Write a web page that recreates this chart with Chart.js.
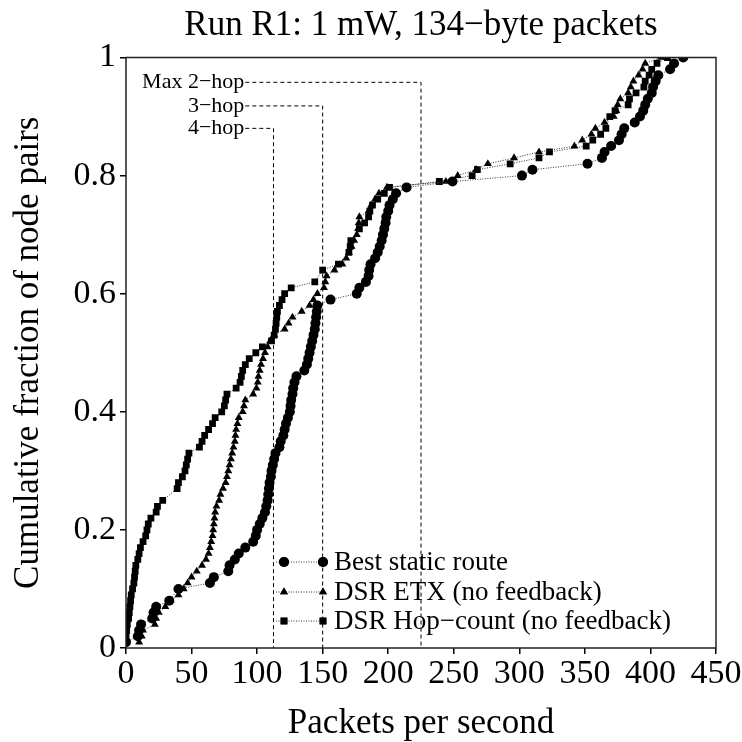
<!DOCTYPE html>
<html>
<head>
<meta charset="utf-8">
<script src="https://cdn.jsdelivr.net/npm/chart.js@4.4.0/dist/chart.umd.min.js"></script>
<style>
  body { margin: 0; background: #fff; }
  #wrap { width: 742px; height: 742px; }
</style>
</head>
<body>
<div id="wrap"><canvas id="myChart" width="742" height="742"></canvas></div>
<script>
// values (packets per second vs cumulative fraction)
var bestX = [0,9,10,11.5,20,21,23,33,40, 64,67,78,79,83,86,91,97,99,100, 102,104,106,107,108,108.5,109,109.5,110.5,111,
  112,113,114,117,118,120,121,122,123.5,125, 125.5,126,127,127.5,128.5,130,136,138,139,140,
  141,142,143,144,144.5,145,145.5,146,156,176, 178,183,185,185.5,186.5,190,192,193.5,195,196,
  197,198,198.5,200,201,203.5,206,214,249,302, 310,352,363,365,370,376,378,380,388,392,
  394.5,396,398,401,402,404,406,415,418,425];
var bestY = [0.01,0.02,0.03,0.04,0.05,0.06,0.07,0.08,0.10, 0.11,0.12,0.13,0.14,0.15,0.16,0.17,0.18,0.19,0.20,
  0.21,0.22,0.23,0.24,0.25,0.26,0.27,0.28,0.29,0.30, 0.31,0.32,0.33,0.34,0.35,0.36,0.37,0.38,0.39,0.40,
  0.41,0.42,0.43,0.44,0.45,0.46,0.47,0.48,0.49,0.50, 0.51,0.52,0.53,0.54,0.55,0.56,0.57,0.58,0.59,0.60,
  0.61,0.62,0.63,0.64,0.65,0.66,0.67,0.68,0.69,0.70, 0.71,0.72,0.73,0.74,0.75,0.76,0.77,0.78,0.79,0.80,
  0.81,0.82,0.83,0.84,0.85,0.86,0.87,0.88,0.89,0.90, 0.91,0.92,0.93,0.94,0.95,0.96,0.97,0.98,0.99,1.00];

var etxX = [10,12,13,22,23,25,30,34,40,44, 47,50,54,58,61,63,64,65,66,66.5, 67,67.5,68,69,71,72,74,76,77,78,
  79,80,81,82,83,83.5,84,85,86,89, 90,91,97,99.5,100.5,101,102,103,104.5,106, 108,110,113,121,124,127,134,140,143,146,
  151,152,153,159,165,168,170,172,174,176, 177,177.5,178,185,187,190,193,199,244,253,
  267,276,296,315,342,348,355,358,365,372, 374,375,377,383,385,387,391,394,396,408];
var etxY = [0.01,0.02,0.03,0.04,0.05,0.06,0.07,0.08,0.09,0.10, 0.11,0.12,0.13,0.14,0.15,0.16,0.17,0.18,0.19,0.20,
  0.21,0.22,0.23,0.24,0.25,0.26,0.27,0.28,0.29,0.30, 0.31,0.32,0.33,0.34,0.35,0.36,0.37,0.38,0.39,0.40,
  0.41,0.42,0.43,0.44,0.45,0.46,0.47,0.48,0.49,0.50, 0.51,0.52,0.53,0.54,0.55,0.56,0.57,0.58,0.59,0.60,
  0.61,0.62,0.63,0.64,0.65,0.66,0.67,0.68,0.69,0.70, 0.71,0.72,0.73,0.74,0.75,0.76,0.77,0.78,0.79,0.80,
  0.81,0.82,0.83,0.84,0.85,0.86,0.87,0.88,0.89,0.90, 0.91,0.92,0.93,0.94,0.95,0.96,0.97,0.98,0.99,1.00];

var hopX = [0,0,0.5,1,2,2.5,3,3.5,4,5, 6,6.5,7,7.5,9,10,11,13,15,16, 17,19,23,24,28,39,40,43,45,46,
  47,48,56,58,60,63,66,68,73,75, 76,77,84,87,88,89,91,94,99,104, 111,113,114,114.5,115,115.5,117,119,121,126,
  144,150,162,170,171,171.5,178,182,185,186, 188,192,197,201,239,264,268,293,315,323,
  351,356,362,366,369,373,383,384,389,395, 396,399,401,405,413];
var hopY = [0.01,0.02,0.03,0.04,0.05,0.06,0.07,0.08,0.09,0.10, 0.11,0.12,0.13,0.14,0.15,0.16,0.17,0.18,0.19,0.20,
  0.21,0.22,0.23,0.24,0.25,0.27,0.28,0.29,0.30,0.31, 0.32,0.33,0.34,0.35,0.36,0.37,0.38,0.39,0.40,0.41,
  0.42,0.43,0.44,0.45,0.46,0.47,0.48,0.49,0.50,0.51, 0.52,0.53,0.54,0.55,0.56,0.57,0.58,0.59,0.60,0.61,
  0.62,0.64,0.65,0.67,0.68,0.69,0.71,0.72,0.73,0.74, 0.75,0.76,0.77,0.78,0.79,0.80,0.81,0.82,0.83,0.84,
  0.85,0.86,0.87,0.88,0.90,0.91,0.92,0.93,0.94,0.95, 0.96,0.97,0.98,0.99,1.00];

var seriesNames = ["Best static route", "DSR ETX (no feedback)", "DSR Hop\u2212count (no feedback)"];
var seriesMarks = ["circle", "triangle", "rect"];

// hop limits (450 / hops) and where their labels sit
var hopLimitX = [225, 150, 112.5];
var hopLimitY = [0.958, 0.918, 0.880];
var hopLimitNames = ["Max 2\u2212hop", "3\u2212hop", "4\u2212hop"];
var hopLabelEndX = 91;

var xTicks = [0, 50, 100, 150, 200, 250, 300, 350, 400, 450];
var yTicks = [0, 0.2, 0.4, 0.6, 0.8, 1];

var serif = "'Liberation Serif', 'DejaVu Serif', serif";

function toPoints(xs, ys) {
  var pts = [];
  for (var i = 0; i < xs.length; i++) pts.push({x: xs[i], y: ys[i]});
  return pts;
}

var datasets = [];
for (var h = 0; h < hopLimitX.length; h++) {
  datasets.push({
    label: hopLimitNames[h],
    data: [{x: hopLabelEndX, y: hopLimitY[h]}, {x: hopLimitX[h], y: hopLimitY[h]}, {x: hopLimitX[h], y: 0}],
    showLine: true, borderColor: "#000", borderWidth: 1, borderDash: [4, 3],
    pointRadius: 0, fill: false
  });
}
var seriesData = [toPoints(bestX, bestY), toPoints(etxX, etxY), toPoints(hopX, hopY)];
var markSize = [5, 4.6, 4.8];
for (var s = 0; s < 3; s++) {
  datasets.push({
    label: seriesNames[s],
    data: seriesData[s],
    showLine: true, borderColor: "#333", borderWidth: 1, borderDash: [1, 1.5],
    pointStyle: seriesMarks[s], pointRadius: markSize[s],
    pointBackgroundColor: "#000", pointBorderColor: "#000", pointBorderWidth: 0,
    fill: false
  });
}

var extras = {
  id: "extras",
  afterDraw: function(chart) {
    var ctx = chart.ctx;
    var a = chart.chartArea;
    var xs = chart.scales.x, ys = chart.scales.y;
    ctx.save();
    // frame
    ctx.strokeStyle = "#222";
    ctx.lineWidth = 1.5;
    ctx.strokeRect(a.left, a.top, a.right - a.left, a.bottom - a.top);

    // hop labels
    ctx.fillStyle = "#000";
    ctx.font = "22px " + serif;
    ctx.textAlign = "right";
    ctx.textBaseline = "middle";
    for (var h = 0; h < hopLimitNames.length; h++) {
      ctx.fillText(hopLimitNames[h], xs.getPixelForValue(hopLabelEndX) - 1, ys.getPixelForValue(hopLimitY[h]));
    }

    // legend inside plot
    var rows = [562, 592, 621];
    ctx.font = "27px " + serif;
    ctx.textAlign = "left";
    for (var s = 0; s < 3; s++) {
      var y = rows[s];
      ctx.setLineDash([1, 1.5]);
      ctx.strokeStyle = "#333";
      ctx.lineWidth = 1;
      ctx.beginPath();
      ctx.moveTo(276, y);
      ctx.lineTo(323, y);
      ctx.stroke();
      ctx.setLineDash([]);
      ctx.fillStyle = "#000";
      Chart.helpers.drawPoint(ctx, {pointStyle: seriesMarks[s], radius: markSize[s], borderWidth: 0}, 284, y);
      ctx.fill();
      Chart.helpers.drawPoint(ctx, {pointStyle: seriesMarks[s], radius: markSize[s], borderWidth: 0}, 323, y);
      ctx.fill();
      ctx.fillText(seriesNames[s], 334, y + 1);
    }
    ctx.restore();
  }
};

var ctx = document.getElementById("myChart").getContext("2d");
var myChart = new Chart(ctx, {
  type: "scatter",
  data: { datasets: datasets },
  plugins: [extras],
  options: {
    responsive: false,
    animation: false,
    layout: { padding: { left: 0, right: 26, top: 0, bottom: 0 } },
    plugins: {
      legend: { display: false },
      tooltip: { enabled: false },
      title: {
        display: true, fullSize: false,
        text: "Run R1: 1 mW, 134\u2212byte packets",
        color: "#000",
        font: { family: serif, size: 35, weight: "normal", lineHeight: 1.2 },
        padding: { top: 5, bottom: 10.5 }
      }
    },
    scales: {
      x: {
        type: "linear", min: 0, max: 450,
        afterBuildTicks: function(scale) { scale.ticks = xTicks.map(function(v) { return {value: v}; }); },
        afterFit: function(scale) { scale.height = 94; },
        grid: { display: true, drawOnChartArea: false, drawTicks: true, tickLength: 6, color: "#000", lineWidth: 1.5 },
        border: { display: false },
        ticks: { color: "#000", font: { family: serif, size: 34 }, padding: 0, maxRotation: 0,
          callback: function(v) { return String(v); } },
        title: { display: true, text: "Packets per second", color: "#000", font: { family: serif, size: 35, lineHeight: 1 }, padding: { top: 0, bottom: 1 } }
      },
      y: {
        type: "linear", min: 0, max: 1,
        afterBuildTicks: function(scale) { scale.ticks = yTicks.map(function(v) { return {value: v}; }); },
        afterFit: function(scale) { scale.width = 126; },
        grid: { display: true, drawOnChartArea: false, drawTicks: true, tickLength: 6, color: "#000", lineWidth: 1.5 },
        border: { display: false },
        ticks: { color: "#000", font: { family: serif, size: 34 }, padding: 4,
          callback: function(v) { return String(v); } },
        title: { display: true, text: "Cumulative fraction of node pairs", color: "#000", font: { family: serif, size: 35, lineHeight: 1 }, padding: { top: 11, bottom: 0 } }
      }
    }
  }
});
</script>
</body>
</html>
